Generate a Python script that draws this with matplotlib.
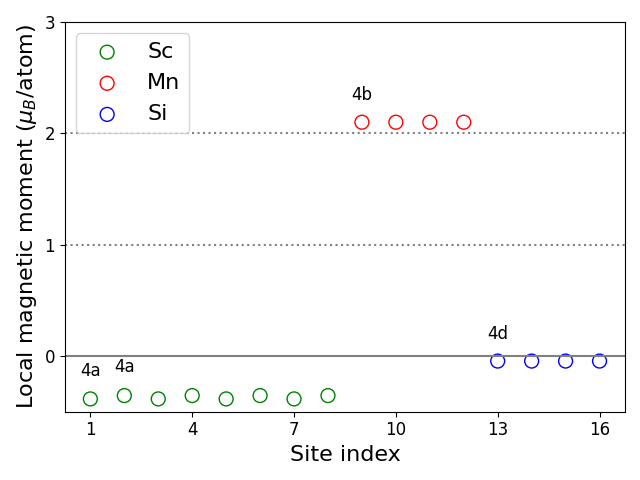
import matplotlib
matplotlib.use("Agg")
import matplotlib.pyplot as plt

sc_sites = [1, 2, 3, 4, 5, 6, 7, 8]
sc_vals = [-0.385, -0.355, -0.385, -0.355, -0.385, -0.355, -0.385, -0.355]
mn_sites = [9, 10, 11, 12]
mn_vals = [2.1, 2.1, 2.1, 2.1]
si_sites = [13, 14, 15, 16]
si_vals = [-0.045, -0.045, -0.045, -0.045]
labels = ["4a", "4a", "4b", "4d"]
label_x = [1, 2, 9, 13]
label_y = [-0.13, -0.10, 2.34, 0.2]

fig, ax = plt.subplots(figsize=(6.4, 4.8), dpi=100)
ax.scatter(sc_sites, sc_vals, s=100, facecolors='none', edgecolors='green', label='Sc')
ax.scatter(mn_sites, mn_vals, s=100, facecolors='none', edgecolors='red', label='Mn')
ax.scatter(si_sites, si_vals, s=100, facecolors='none', edgecolors='blue', label='Si')
ax.axhline(0, color='gray', lw=1.5)
ax.axhline(1, color='gray', ls=':', lw=1.5)
ax.axhline(2, color='gray', ls=':', lw=1.5)
for t, x, y in zip(labels, label_x, label_y):
    ax.text(x, y, t, ha='center', va='center', fontsize=12)
ax.set_ylim(-0.5, 3)
ax.set_yticks([0, 1, 2, 3])
ax.set_xticks([1, 4, 7, 10, 13, 16])
ax.tick_params(labelsize=12)
ax.set_xlabel('Site index', fontsize=16)
ax.set_ylabel(r'Local magnetic moment ($\mu_B$/atom)', fontsize=16)
ax.legend(loc='upper left', fontsize=16)
fig.tight_layout()
fig.savefig('out.png', dpi=100)
